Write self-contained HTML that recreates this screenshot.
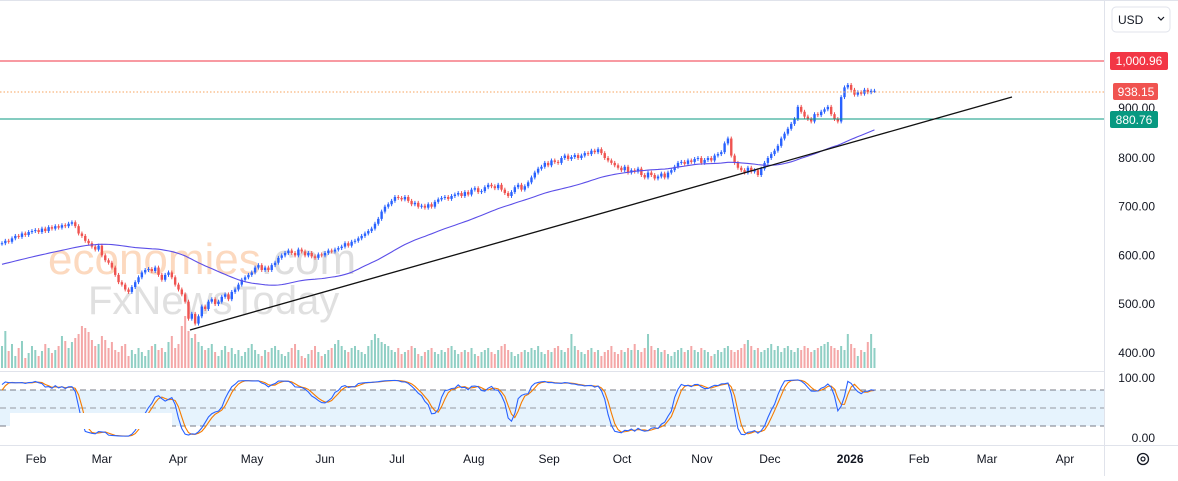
<!DOCTYPE html>
<html><head><meta charset="utf-8"><style>
html,body{margin:0;padding:0;background:#fff;}
body{width:1178px;height:476px;overflow:hidden;font-family:"Liberation Sans",sans-serif;}
svg text{font-family:"Liberation Sans",sans-serif;}
</style></head><body>
<svg id="c" width="1178" height="476" viewBox="0 0 1178 476" xmlns="http://www.w3.org/2000/svg">
<rect x="0" y="0" width="1178" height="476" fill="#fff"/>
<line x1="0" y1="0.5" x2="1178" y2="0.5" stroke="#e0e3eb"/>
<line x1="1104.5" y1="0" x2="1104.5" y2="476" stroke="#e0e3eb"/>
<line x1="0" y1="371.5" x2="1104" y2="371.5" stroke="#e0e3eb"/>
<line x1="0" y1="445.5" x2="1178" y2="445.5" stroke="#e0e3eb"/>
<g>
<text x="48" y="274" font-size="44" fill="#fcd9bf">economies<tspan fill="#dedede">.com</tspan></text>
<text x="88" y="314" font-size="40" fill="#e0e0e0">FxNewsToday</text>
</g>
<g id="stochBand">
<rect x="0" y="390" width="1104" height="36" fill="#e3f2fd" opacity="0.9"/>
<line x1="0" y1="390" x2="1104" y2="390" stroke="#787b86" stroke-dasharray="6,4"/>
<line x1="0" y1="408" x2="1104" y2="408" stroke="#9598a1" stroke-dasharray="6,4"/>
<line x1="0" y1="426" x2="1104" y2="426" stroke="#787b86" stroke-dasharray="6,4"/>
</g>
<g id="vol"></g><g id="candles"></g><g id="ma"></g><g id="stoch"></g>
<rect x="10" y="413" width="162" height="16" fill="#fff"/>
<line x1="0" y1="61" x2="1104" y2="61" stroke="#f23645"/>
<line x1="0" y1="92" x2="1104" y2="92" stroke="#f7a35c" stroke-dasharray="1.5,2"/>
<line x1="0" y1="119" x2="1104" y2="119" stroke="#089981"/>
<line x1="190" y1="330" x2="1012" y2="97" stroke="#111" stroke-width="1.3"/>
<g id="yaxis" font-size="12" fill="#131722"></g>
<g id="xaxis" font-size="12" fill="#131722"></g>
<rect x="1110" y="52" width="58" height="18" rx="2" fill="#f23645"/>
<text x="1139" y="65" font-size="12" fill="#fff" text-anchor="middle">1,000.96</text>
<text x="1155" y="112" font-size="12" fill="#131722" text-anchor="end">900.00</text>
<rect x="1113" y="83" width="45" height="17" rx="2" fill="#f05350"/>
<text x="1136" y="96" font-size="12" fill="#fff" text-anchor="middle">938.15</text>
<rect x="1110" y="111" width="48" height="17" rx="2" fill="#089981"/>
<text x="1134" y="124" font-size="12" fill="#fff" text-anchor="middle">880.76</text>
<g>
<rect x="1112" y="7" width="58" height="25" rx="4" fill="#fff" stroke="#e0e3eb"/>
<text x="1118" y="24" font-size="12" fill="#131722">USD</text>
<path d="M1158 17 l3 3 l3 -3" fill="none" stroke="#131722" stroke-width="1.2"/>
</g>
<g>
<circle cx="1143" cy="459" r="5.5" fill="none" stroke="#131722" stroke-width="1.3"/>
<circle cx="1143" cy="459" r="2" fill="none" stroke="#131722" stroke-width="1.2"/>
</g>
</svg>
<script>
const priorCloses=[540,545,548,552,550,556,560,565,562,568,572,570,576,580,575,582,586,584,588,590,585,592,588,583,578,572,580,585,590,588,592,595,590,597,593,588,583,578,573,580,586,588,592,590,594,596,592,588,594,624];
const closes=[625,630,628,635,640,638,645,642,648,650,
652,648,655,650,658,655,660,657,662,660,
665,668,660,645,640,630,625,618,612,620,
600,590,585,575,560,545,540,530,525,535,
545,555,565,570,572,568,575,560,550,560,
565,555,540,530,520,505,470,480,460,475,
495,490,505,510,500,505,515,520,510,525,
530,540,550,555,560,565,575,580,570,575,
570,580,585,595,600,605,610,605,600,612,
608,600,605,598,595,602,600,605,610,608,
612,615,618,625,620,628,630,635,640,645,
650,655,665,675,690,700,705,712,720,718,
715,720,712,705,708,700,702,698,705,700,
710,715,718,720,716,722,725,728,722,730,
725,735,738,730,732,740,745,742,738,745,
735,728,722,730,740,745,735,742,750,760,
770,778,782,790,785,795,792,790,800,805,
798,802,806,800,805,810,808,815,812,818,
810,800,795,790,785,780,775,782,770,775,
772,778,765,760,770,765,758,762,768,760,
770,775,782,790,792,788,795,792,798,800,
790,796,800,795,805,808,812,830,840,805,
790,780,775,770,780,772,775,765,778,790,
800,808,815,825,840,850,860,870,880,905,
895,885,880,875,890,888,895,900,905,890,
880,875,925,945,950,940,930,935,932,940,
935,938,938];
const volumes=[40,55,35,42,30,38,45,28,33,40,36,30,35,42,38,33,36,40,50,45,
38,44,48,52,60,58,54,46,40,42,50,46,38,44,36,34,40,42,30,36,
32,38,34,30,36,40,42,36,38,34,44,50,38,42,60,70,55,48,52,44,
40,36,38,42,34,30,36,40,34,38,32,36,30,34,38,42,36,32,30,36,
34,38,40,36,32,30,34,38,42,36,30,28,32,36,40,34,30,32,36,38,
42,46,40,36,34,38,40,36,34,32,40,46,52,48,44,42,40,36,34,38,
32,34,36,40,38,32,30,34,36,38,34,32,36,34,38,40,36,32,34,36,
34,38,32,30,34,36,38,34,32,36,40,42,36,34,30,32,34,36,34,38,
36,40,34,32,36,34,38,40,36,34,38,52,40,36,34,32,36,38,34,36,
30,34,36,40,34,32,36,34,38,36,42,36,34,38,52,40,36,38,34,36,
32,30,34,36,38,34,36,40,36,34,38,36,34,30,32,36,34,38,40,36,
34,36,38,42,46,40,36,38,34,36,38,42,36,40,34,38,40,36,34,38,
36,40,38,34,36,38,40,42,44,40,38,36,40,36,52,42,38,30,36,34,
44,52,38];
const priceTicks=[800,700,600,500,400];
const stochTicks=[100,0];
const monthLabels=["Feb","Mar","Apr","May","Jun","Jul","Aug","Sep","Oct","Nov","Dec","2026","Feb","Mar","Apr"];
const monthPos=[10.2,30,52.9,75.1,97,118.6,141.7,164.3,186.2,210.2,230.6,254.7,275.4,295.8,319.2];

const NS="http://www.w3.org/2000/svg";
function mk(t,a,p){const e=document.createElementNS(NS,t);for(const k in a)e.setAttribute(k,a[k]);p.appendChild(e);return e;}
const xOf=i=>2+i*3.33;
const yP=p=>158-(p-800)*0.487;
const yS=v=>438-v*0.6;
const yV=v=>368-(v-18)*1.0;
const G=id=>document.getElementById(id);

priceTicks.forEach(p=>{const t=mk('text',{x:1155,y:yP(p)+4,'text-anchor':'end'},G('yaxis'));t.textContent=p.toFixed(2);

});
stochTicks.forEach(v=>{const t=mk('text',{x:1155,y:yS(v)+4,'text-anchor':'end'},G('yaxis'));t.textContent=v.toFixed(2);

});
monthLabels.forEach((m,i)=>{const t=mk('text',{x:xOf(monthPos[i]),y:463,'text-anchor':'middle','font-weight':m==='2026'?'bold':'normal'},G('xaxis'));t.textContent=m;

});

const opens=closes.map((c,i)=>i===0?priorCloses[priorCloses.length-1]:closes[i-1]);
const highs=closes.map((c,i)=>Math.max(c,opens[i])+4);
const lows=closes.map((c,i)=>Math.min(c,opens[i])-4);

volumes.forEach((v,i)=>{if(i>=closes.length)return;const up=closes[i]>=opens[i];
const r=mk('rect',{x:xOf(i)-1,y:yV(v),width:2,height:368-yV(v),fill:up?'#8fcfc4':'#f4a7a7'},G('vol'));

});
closes.forEach((c,i)=>{const o=opens[i],up=c>=o,col=up?'#2962ff':'#ef5350',x=xOf(i);
const g=mk('g',{},G('candles'));


mk('line',{x1:x,x2:x,y1:yP(highs[i]),y2:yP(lows[i]),stroke:col,'stroke-width':1},g);
const t=Math.min(yP(o),yP(c));mk('rect',{x:x-1.2,y:t,width:2.4,height:Math.max(1,Math.abs(yP(o)-yP(c))),fill:col},g);});
const all=priorCloses.concat(closes);let pts=[];
closes.forEach((c,i)=>{const j=i+priorCloses.length;let s=0;for(let k=j-49;k<=j;k++)s+=all[k];pts.push(xOf(i)+','+yP(s/50));});
const ma=mk('polyline',{points:pts.join(' '),fill:'none',stroke:'#5b4ee8','stroke-width':1.1},G('ma'));


const allH=all.map((c,i)=>i<priorCloses.length?c+4:highs[i-priorCloses.length]);
const allL=all.map((c,i)=>i<priorCloses.length?c-4:lows[i-priorCloses.length]);
const raw=all.map((c,j)=>{if(j<13)return 50;let h=-1e9,l=1e9;for(let k=j-13;k<=j;k++){h=Math.max(h,allH[k]);l=Math.min(allL[k],l);}return h===l?50:(c-l)/(h-l)*100;});
const sm=(a)=>a.map((v,j)=>j<2?v:(a[j]+a[j-1]+a[j-2])/3);
const K=sm(raw),D=sm(K);
const off=priorCloses.length;
const kp=closes.map((c,i)=>xOf(i)+','+yS(K[i+off])).join(' ');
const dp=closes.map((c,i)=>xOf(i)+','+yS(D[i+off])).join(' ');
const dl=mk('polyline',{points:dp,fill:'none',stroke:'#f57c00','stroke-width':1.1},G('stoch'));


const kl=mk('polyline',{points:kp,fill:'none',stroke:'#2962ff','stroke-width':1.1},G('stoch'));


</script>
</body></html>
